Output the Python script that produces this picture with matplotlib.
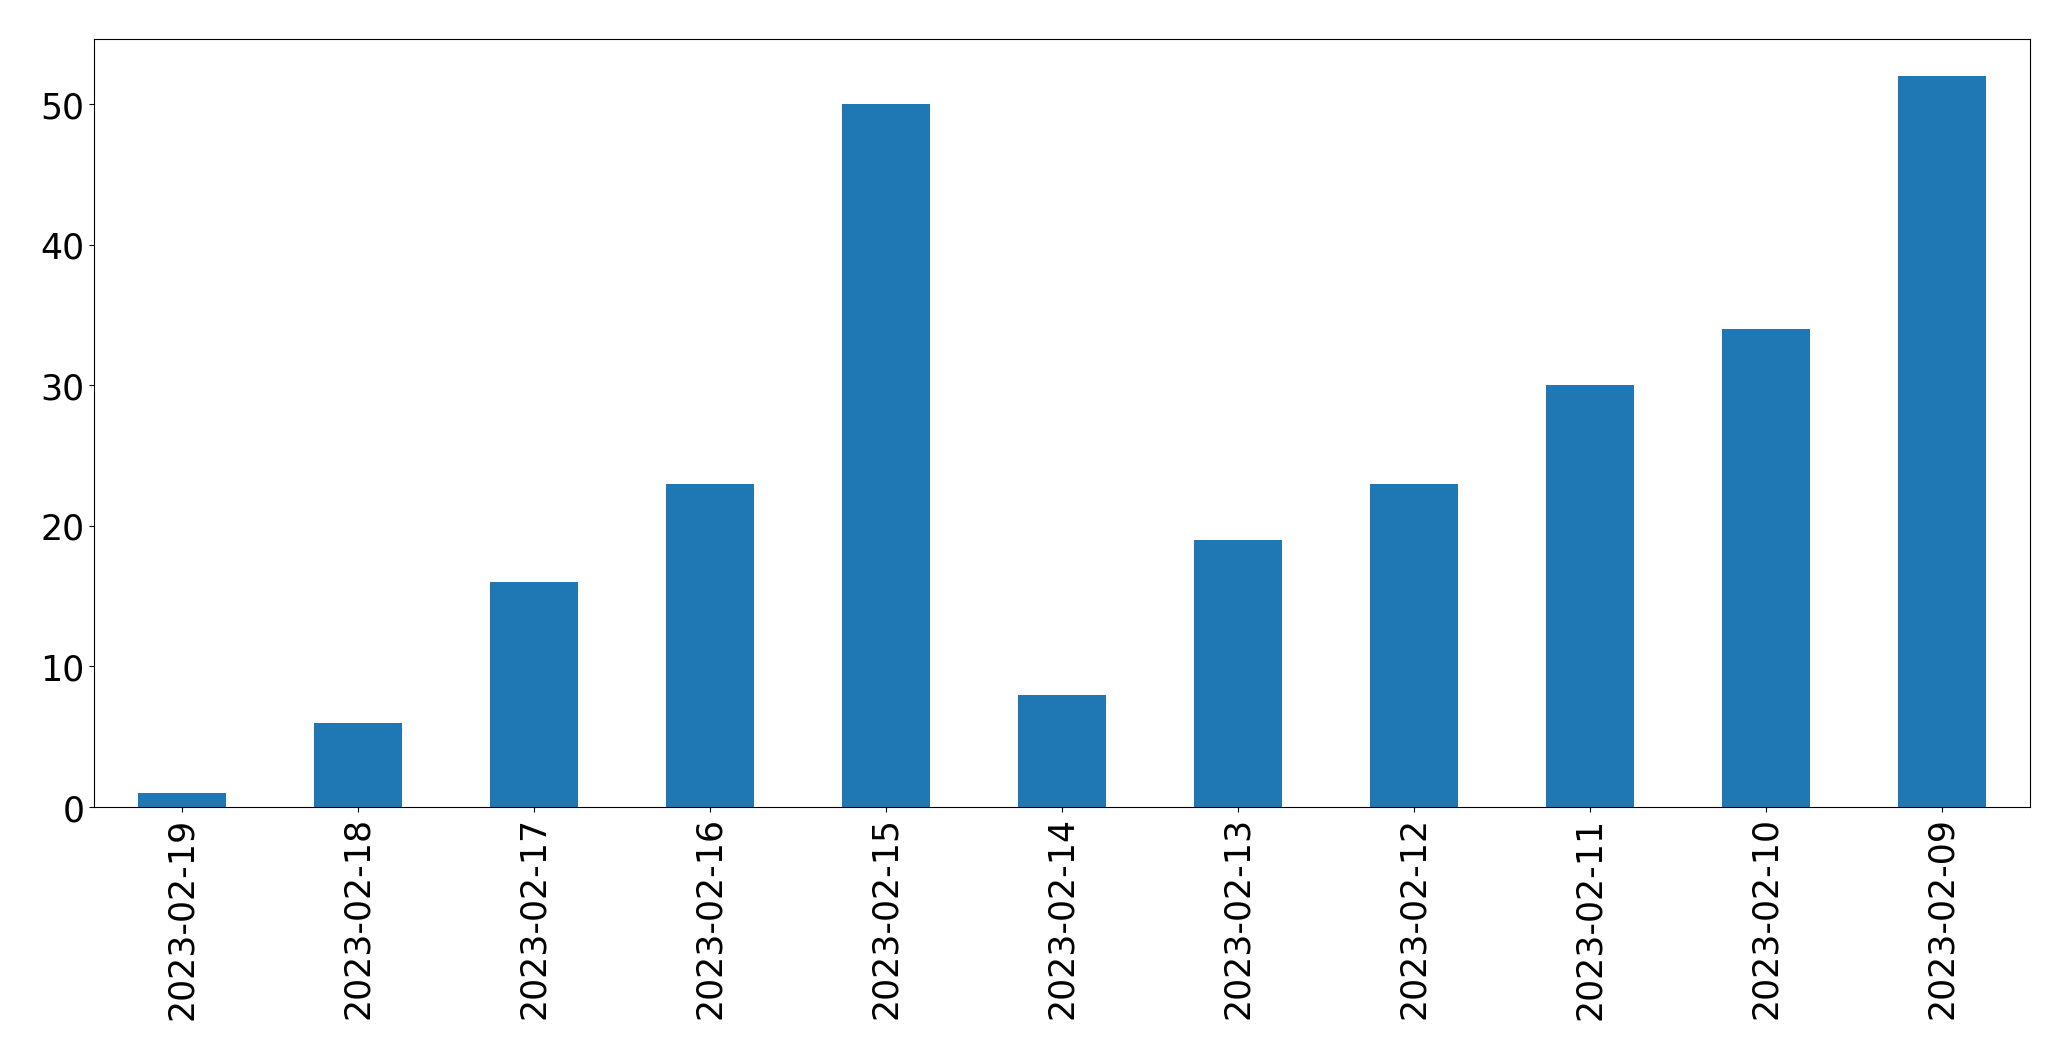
import matplotlib
matplotlib.use("Agg")
import matplotlib.pyplot as plt
import numpy as np

# ---- data ----
dates = ["2023-02-19", "2023-02-18", "2023-02-17", "2023-02-16", "2023-02-15",
         "2023-02-14", "2023-02-13", "2023-02-12", "2023-02-11", "2023-02-10",
         "2023-02-09"]
counts = [1, 6, 16, 23, 50, 8, 19, 23, 30, 34, 52]

fig = plt.figure(figsize=(20.71, 10.605), dpi=100)
ax = fig.add_axes([0.0454, 0.2385, 0.9348, 0.7238])

x = np.arange(len(dates))
ax.bar(x, counts, width=0.5, color="#1f77b4")
ax.set_xlim(-0.5, len(dates) - 0.5)
ax.set_ylim(0, max(counts) * 1.05)
ax.set_xticks(x)
ax.set_xticklabels(dates, rotation=90)
ax.tick_params(labelsize=25)

fig.savefig("out.png", dpi=100)
